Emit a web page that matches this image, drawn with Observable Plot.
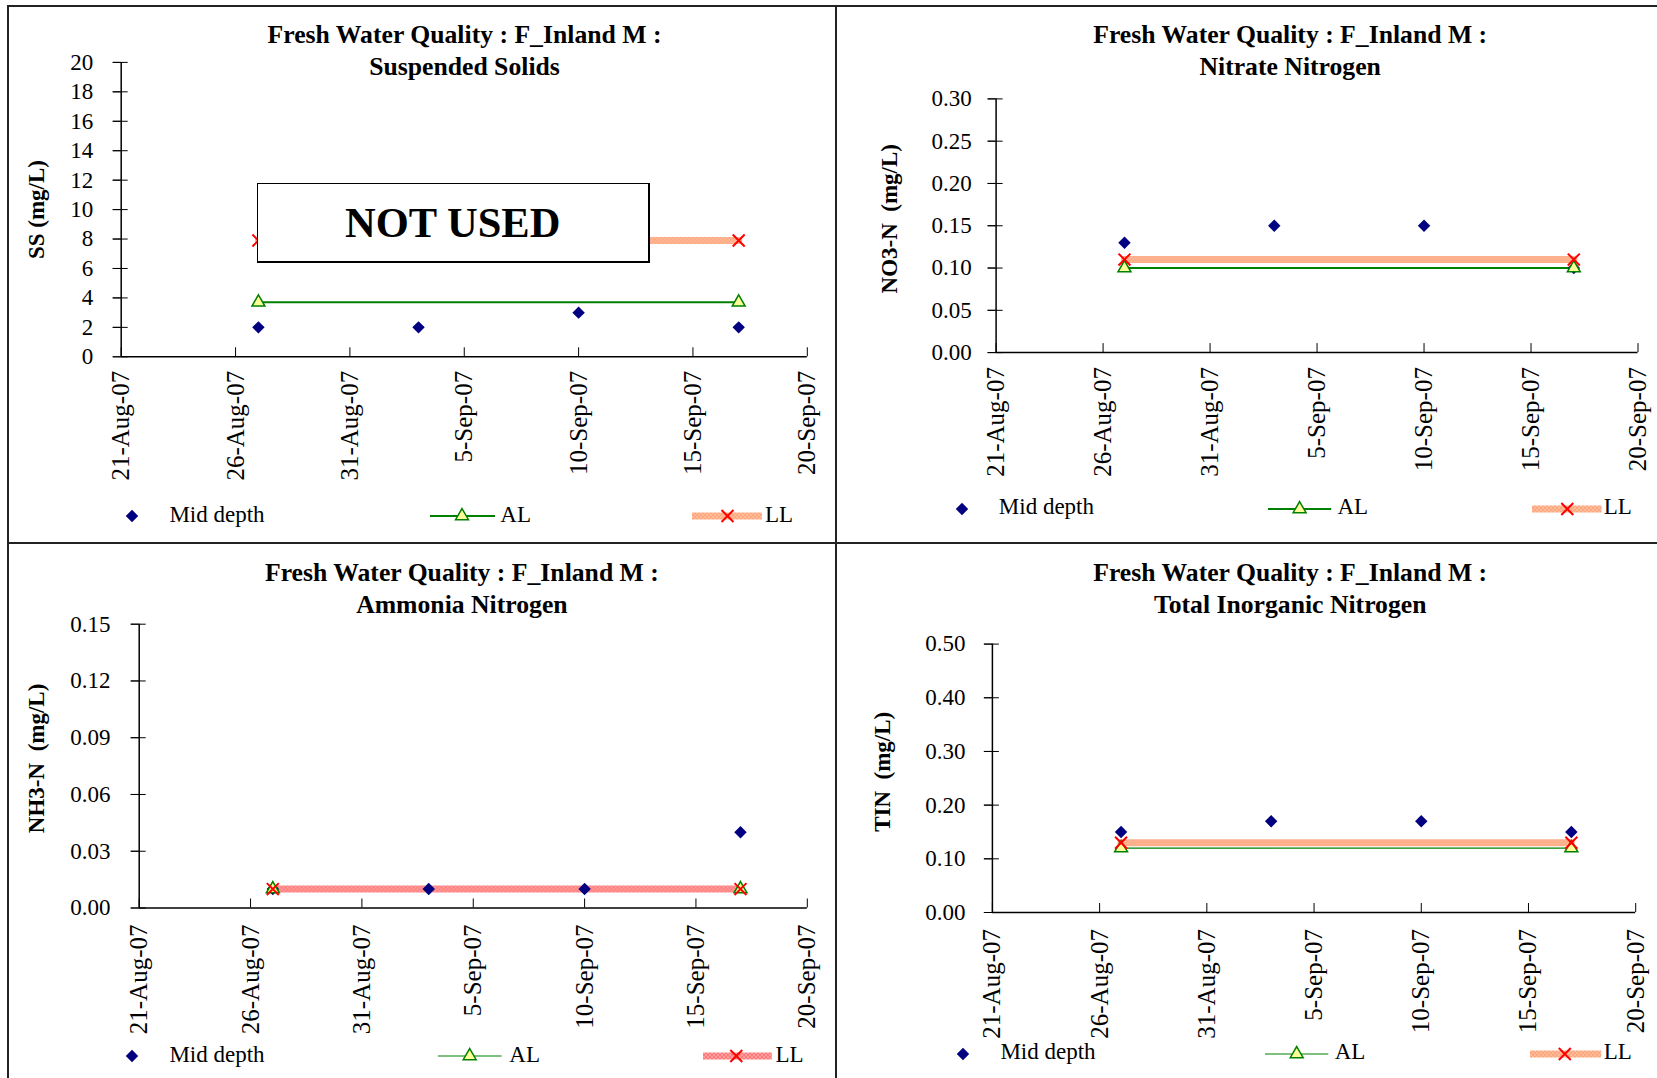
<!DOCTYPE html>
<html>
<head>
<meta charset="utf-8">
<script src="https://cdn.jsdelivr.net/npm/d3@7"></script>
<script src="https://cdn.jsdelivr.net/npm/@observablehq/plot@0.6"></script>
<style>
  html, body { margin: 0; padding: 0; background: #fff; }
  #page { position: relative; width: 1657px; height: 1078px; overflow: hidden; background: #fff;
          font-family: "Liberation Serif", "Times New Roman", serif; color: #000; }
  .chart { position: absolute; }
  .chart svg { display: block; overflow: visible; max-width: none; }
  .title { position: absolute; transform: translateX(-50%); text-align: center; white-space: nowrap;
           font-weight: bold; font-size: 25.7px; line-height: 32px; }
  .ltext { position: absolute; font-size: 23px; line-height: 23px; white-space: nowrap; }
  .rule { position: absolute; background: #222; }
  .notused { position: absolute; box-sizing: border-box; background: #fff; border: 1.5px solid #000;
             border-right-width: 2px; border-bottom-width: 2px;
             display: flex; align-items: center; justify-content: center;
             font-weight: bold; font-size: 42.5px; }
</style>
</head>
<body>
<svg width="0" height="0" style="position:absolute">
  <defs>
    <pattern id="llOrange" patternUnits="userSpaceOnUse" width="4" height="4">
      <rect width="4" height="4" fill="#FEBB9A"/>
      <rect width="2" height="2" fill="#FDA77E"/>
      <rect x="2" y="2" width="2" height="2" fill="#FDA77E"/>
    </pattern>
    <pattern id="llPink" patternUnits="userSpaceOnUse" width="4" height="4">
      <rect width="4" height="4" fill="#FF9C9C"/>
      <rect width="2" height="2" fill="#FF7A7A"/>
      <rect x="2" y="2" width="2" height="2" fill="#FF7A7A"/>
    </pattern>
  </defs>
</svg>
<div id="page"></div>
<script>
// ---------------- data ----------------
const titleMain = "Fresh Water Quality : F_Inland M :";
const subtitles = ["Suspended Solids", "Nitrate Nitrogen", "Ammonia Nitrogen", "Total Inorganic Nitrogen"];
const yLabels = ["SS (mg/L)", "NO3-N  (mg/L)", "NH3-N  (mg/L)", "TIN  (mg/L)"];
const seriesNames = ["Mid depth", "AL", "LL"];

const sampleDates = ["2007-08-27", "2007-09-03", "2007-09-10", "2007-09-17"];
const limitDates = ["2007-08-27", "2007-09-17"];
const xTickLabels = ["21-Aug-07", "26-Aug-07", "31-Aug-07", "5-Sep-07", "10-Sep-07", "15-Sep-07", "20-Sep-07"];

const ssMid = [2, 2, 3, 2];
const ssAL = [3.7, 3.7];
const ssLL = [7.9, 7.9];
const ssTicks = [0, 2, 4, 6, 8, 10, 12, 14, 16, 18, 20];

const no3Mid = [0.13, 0.15, 0.15, 0.10];
const no3AL = [0.10, 0.10];
const no3LL = [0.11, 0.11];
const no3Ticks = [0, 0.05, 0.10, 0.15, 0.20, 0.25, 0.30];

const nh3Mid = [0.01, 0.01, 0.01, 0.04];
const nh3AL = [0.01, 0.01];
const nh3LL = [0.01, 0.01];
const nh3Ticks = [0, 0.03, 0.06, 0.09, 0.12, 0.15];

const tinMid = [0.15, 0.17, 0.17, 0.15];
const tinAL = [0.12, 0.12];
const tinLL = [0.13, 0.13];
const tinTicks = [0, 0.10, 0.20, 0.30, 0.40, 0.50];

const notUsedText = "NOT USED";

// ---------------- layout / style ----------------
const parseISO = d3.utcParse("%Y-%m-%d");
const parseTick = d3.utcParse("%d-%b-%y");
const fmtTick = d3.utcFormat("%-d-%b-%y");
const xTicks = xTickLabels.map(parseTick);
const xDomain = [xTicks[0], xTicks[xTicks.length - 1]];
const rows = (dates, vals) => dates.map((d, i) => ({date: parseISO(d), value: vals[i]}));

const COLORS = {mid: "#000080", al: "#008000", triFill: "#FFFF99", llMark: "#FF0000"};
const R = {dia: 5.6, tri: 4.8, times: 5.5};

const panels = [
  {sub: 0, mid: ssMid, al: ssAL, ll: ssLL, ticks: ssTicks, fmt: d3.format("d"),
   left: 0, top: 0, width: 836, height: 542, m: {l: 120.7, r: 29.2, t: 61.9, b: 185.7},
   yPad: 20, xPad: 14, labelDx: -85, labelDy: 0, llColor: "url(#llOrange)", alWidth: 2,
   titleX: 464.5, titleY: 18.8,
   lg: {y: 516, dia: 132.3, mid: 169.4, al: [430, 495, 462], alText: 500.3, ll: [692.4, 762.3, 727.9], llText: 765}},
  {sub: 1, mid: no3Mid, al: no3AL, ll: no3LL, ticks: no3Ticks, fmt: d3.format(".2f"),
   left: 836, top: 0, width: 821, height: 542, m: {l: 159.6, r: 19.5, t: 98.4, b: 189.9},
   yPad: 16.3, xPad: 14.5, labelDx: -106, labelDy: -7, llColor: "url(#llOrange)", alWidth: 2,
   titleX: 1290.2, titleY: 18.8,
   lg: {y: 508.5, dia: 961.9, mid: 998.8, al: [1267.8, 1331, 1299.4], alText: 1337.4, ll: [1531.5, 1601.1, 1566.8], llText: 1603.7}},
  {sub: 2, mid: nh3Mid, al: nh3AL, ll: nh3LL, ticks: nh3Ticks, fmt: d3.format(".2f"),
   left: 0, top: 542, width: 836, height: 536, m: {l: 138.7, r: 29.2, t: 81.7, b: 170.5},
   yPad: 20.7, xPad: 16.5, labelDx: -102.7, labelDy: -7.7, llColor: "url(#llPink)", alWidth: 1.2,
   titleX: 461.9, titleY: 556.6,
   lg: {y: 1056, dia: 132.3, mid: 169.4, al: [438.3, 501.9, 470], alText: 509.3, ll: [702.5, 771.3, 735.8], llText: 775.5}},
  {sub: 3, mid: tinMid, al: tinAL, ll: tinLL, ticks: tinTicks, fmt: d3.format(".2f"),
   left: 836, top: 542, width: 821, height: 536, m: {l: 155.9, r: 21.8, t: 101.6, b: 166},
   yPad: 19, xPad: 16.5, labelDx: -110.2, labelDy: -6.5, llColor: "url(#llOrange)", alWidth: 1.2,
   titleX: 1290.2, titleY: 556.6,
   lg: {y: 1053.5, dia: 963.4, mid: 1000.4, al: [1265.1, 1328.4, 1296.8], alText: 1334.7, ll: [1529.9, 1601.1, 1564.7], llText: 1603.7}}
];

const page = document.getElementById("page");

function el(tag, cls, css, html) {
  const e = document.createElement(tag);
  if (cls) e.className = cls;
  Object.assign(e.style, css || {});
  if (html != null) e.innerHTML = html;
  page.appendChild(e);
  return e;
}

const FONT = '"Liberation Serif", "Times New Roman", serif';

for (const p of panels) {
  const midRows = rows(sampleDates, p.mid);
  const alRows = rows(limitDates, p.al);
  const llRows = rows(limitDates, p.ll);
  const y0 = p.ticks[0], y1 = p.ticks[p.ticks.length - 1];

  const chart = Plot.plot({
    width: p.width,
    height: p.height,
    marginLeft: p.m.l, marginRight: p.m.r, marginTop: p.m.t, marginBottom: p.m.b,
    style: {fontFamily: FONT, fontSize: "23px", background: "transparent", color: "#000", overflow: "visible"},
    x: {type: "utc", domain: xDomain},
    y: {domain: [y0, y1]},
    marks: [
      // y ticks (outside part + labels)
      Plot.axisY(p.ticks, {anchor: "left", tickSize: 8, tickPadding: p.yPad, tickFormat: p.fmt,
                           label: null, stroke: "#000", fill: "#000", fontSize: 23}),
      // y ticks crossing into the plot
      Plot.axisY(p.ticks, {anchor: "left", tickSize: 15, dx: 7, fill: "none", label: null, stroke: "#000"}),
      // x ticks inside
      Plot.axisX(xTicks, {anchor: "bottom", tickSize: 9, dy: -9, fill: "none", label: null, stroke: "#000"}),
      // x tick labels
      Plot.axisX(xTicks, {anchor: "bottom", tickSize: 0, stroke: "none", tickPadding: p.xPad,
                          tickRotate: -90, tickFormat: fmtTick, label: null, fill: "#000", fontSize: 25}),
      // axis lines
      Plot.ruleY([y0], {stroke: "#000", strokeWidth: 1.5}),
      Plot.ruleX([xDomain[0]], {stroke: "#000", strokeWidth: 1.5}),
      // y axis title
      Plot.text([yLabels[p.sub]], {frameAnchor: "left", textAnchor: "middle", lineAnchor: "middle",
                                  rotate: -90, dx: p.labelDx, dy: p.labelDy,
                                  fontWeight: "bold", fontSize: 23, fill: "#000"}),
      // series lines
      Plot.line(alRows, {x: "date", y: "value", stroke: COLORS.al, strokeWidth: p.alWidth}),
      Plot.line(llRows, {x: "date", y: "value", stroke: p.llColor, strokeWidth: 7}),
      // markers
      Plot.dot(midRows, {x: "date", y: "value", symbol: "diamond2", r: R.dia, fill: COLORS.mid, stroke: "none"}),
      Plot.dot(alRows, {x: "date", y: "value", symbol: "triangle", r: R.tri, fill: COLORS.triFill,
                        stroke: COLORS.al, strokeWidth: 1.5}),
      Plot.dot(llRows, {x: "date", y: "value", symbol: "times", r: R.times, stroke: COLORS.llMark, strokeWidth: 2})
    ]
  });
  const holder = el("div", "chart", {left: p.left + "px", top: p.top + "px", width: p.width + "px", height: p.height + "px"});
  holder.appendChild(chart);

  // title
  el("div", "title", {left: p.titleX + "px", top: p.titleY + "px"}, titleMain + "<br>" + subtitles[p.sub]);

  // legend
  const L = p.lg;
  const sym = (type, r) => d3.symbol(type, Math.PI * r * r)();
  el("div", "", {position: "absolute", left: (L.dia - 10) + "px", top: (L.y - 10) + "px"},
     `<svg width="20" height="20" style="display:block;overflow:visible"><path transform="translate(10,10)" d="${sym(d3.symbolDiamond2, R.dia)}" fill="${COLORS.mid}"/></svg>`);
  el("div", "ltext", {left: L.mid + "px", top: (L.y - 13.2) + "px"}, seriesNames[0]);
  const alW = L.al[1] - L.al[0];
  el("div", "", {position: "absolute", left: L.al[0] + "px", top: (L.y - 10) + "px"},
     `<svg width="${alW}" height="20" style="display:block;overflow:visible"><line x1="0" x2="${alW}" y1="10" y2="10" stroke="${COLORS.al}" stroke-width="${p.alWidth}"/><path transform="translate(${L.al[2] - L.al[0]},10)" d="${sym(d3.symbolTriangle, R.tri)}" fill="${COLORS.triFill}" stroke="${COLORS.al}" stroke-width="1.5"/></svg>`);
  el("div", "ltext", {left: L.alText + "px", top: (L.y - 13.2) + "px"}, seriesNames[1]);
  const llW = L.ll[1] - L.ll[0];
  el("div", "", {position: "absolute", left: L.ll[0] + "px", top: (L.y - 10) + "px"},
     `<svg width="${llW}" height="20" style="display:block;overflow:visible"><line x1="0" x2="${llW}" y1="10" y2="10" stroke="${p.llColor}" stroke-width="7"/><path transform="translate(${L.ll[2] - L.ll[0]},10)" d="${sym(d3.symbolTimes, R.times)}" fill="none" stroke="${COLORS.llMark}" stroke-width="2"/></svg>`);
  el("div", "ltext", {left: L.llText + "px", top: (L.y - 13.2) + "px"}, seriesNames[2]);
}

// NOT USED box over the first chart
el("div", "notused", {left: "256.8px", top: "183.2px", width: "392.8px", height: "80.3px"}, notUsedText);

// panel frame lines
el("div", "rule", {left: "7px", top: "4.5px", width: "1650px", height: "2px"});
el("div", "rule", {left: "7px", top: "4.5px", width: "2px", height: "1074px"});
el("div", "rule", {left: "835px", top: "4.5px", width: "2px", height: "1074px"});
el("div", "rule", {left: "7px", top: "541.5px", width: "1650px", height: "2px"});
</script>
</body>
</html>
